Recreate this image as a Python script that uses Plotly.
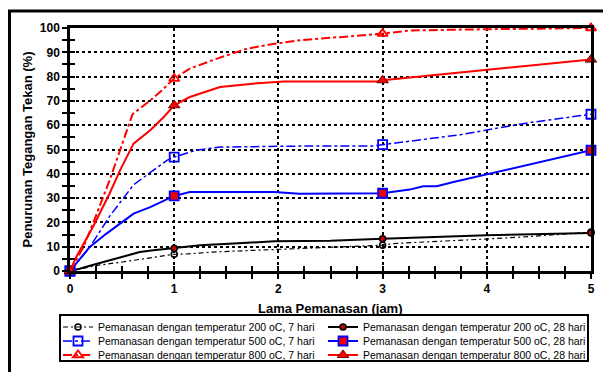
import plotly.graph_objects as go

# ---------------- data ----------------
x_200_7 = [0, 0.26, 0.5, 0.73, 1, 1.12, 1.37, 1.76, 2.2, 2.7, 3, 3.1, 3.42, 3.71, 4.06, 4.35, 4.58, 5]
y_200_7 = [0, 2.3, 3.7, 5.1, 6.9, 7.0, 7.8, 8.5, 9.2, 9.9, 10.6, 11.3, 11.9, 12.6, 13.3, 14.0, 14.7, 16.0]

x_200_28 = [0, 0.1, 0.26, 0.45, 0.67, 0.8, 1, 1.25, 1.57, 1.96, 2.5, 3, 4, 5]
y_200_28 = [0, 1, 3, 5.1, 7.8, 8.5, 9.4, 10.6, 11.3, 12.2, 12.4, 13.3, 14.7, 15.6]

x_500_7 = [0, 0.18, 0.38, 0.61, 0.93, 1, 1.21, 1.44, 2.2, 2.9, 3, 3.49, 3.75, 4.1, 4.45, 5]
y_500_7 = [0, 9.2, 22.5, 35.5, 45.5, 46.9, 49.7, 51, 51.4, 51.4, 52, 54.7, 56.1, 58.8, 61.3, 64.5]

x_500_28 = [0, 0.19, 0.35, 0.48, 0.61, 0.77, 1, 1.15, 1.96, 2.2, 3, 3.26, 3.39, 3.52, 3.68, 5]
y_500_28 = [0, 9.9, 15.4, 19.5, 23.6, 26.3, 30.9, 32.5, 32.5, 31.8, 32.0, 33.5, 34.9, 34.9, 36.6, 49.7]

x_800_7 = [0, 0.13, 0.22, 0.38, 0.6, 0.77, 0.88, 1, 1.15, 1.41, 1.7, 1.92, 2.21, 2.43, 2.69, 3, 3.27, 4, 5]
y_800_7 = [0, 9.9, 19.5, 37.3, 64.5, 70.2, 74.3, 79.2, 83.3, 87.4, 91.5, 93.2, 95, 95.6, 96.6, 97.7, 99, 99.5, 100]

x_800_28 = [0, 0.06, 0.22, 0.38, 0.48, 0.61, 0.77, 0.9, 1, 1.15, 1.44, 1.73, 2.05, 2.95, 3, 5]
y_800_28 = [0, 5.8, 18.1, 31.9, 41.4, 52.4, 57.9, 63.4, 68.2, 71.6, 75.7, 77, 78, 78, 78.5, 87]

marker_x = [0, 1, 3, 5]

names = [
    "Pemanasan dengan temperatur 200 oC, 7 hari",
    "Pemanasan dengan temperatur 200 oC, 28 hari",
    "Pemanasan dengan temperatur 500 oC, 7 hari",
    "Pemanasan dengan temperatur 500 oC, 28 hari",
    "Pemanasan dengan temperatur 800 oC, 7 hari",
    "Pemanasan dengan temperatur 800 oC, 28 hari",
]

y_tick_vals = list(range(0, 101, 10))
x_tick_vals = [0, 1, 2, 3, 4, 5]

# ---------------- layout geometry (pixels) ----------------
W, H = 603, 372
L, R, T, B = 70, 12, 28, 101
PW, PH = W - L - R, H - T - B


def px_x(p):
    return (p - L) / PW


def px_y(p):
    return (H - B - p) / PH


# ---------------- styles ----------------
series = [
    (x_200_7, y_200_7, dict(color="black", width=1.2, dash="5px,3px,2px,3px"),
     dict(symbol="circle-open", size=6, color="black", line=dict(width=1.5, color="black"))),
    (x_200_28, y_200_28, dict(color="black", width=2, dash="solid"),
     dict(symbol="circle", size=6, color="#cc0000", line=dict(width=1.5, color="black"))),
    (x_500_7, y_500_7, dict(color="#0000ff", width=1.5, dash="dashdot"),
     dict(symbol="square-open", size=9, color="#0000ff", line=dict(width=1.8, color="#0000ff"))),
    (x_500_28, y_500_28, dict(color="#0000ff", width=2, dash="solid"),
     dict(symbol="square", size=9, color="#ee0000", line=dict(width=1.8, color="#0000ff"))),
    (x_800_7, y_800_7, dict(color="#ff0000", width=2, dash="dashdot"),
     dict(symbol="triangle-up-open", size=9, color="#ff0000", line=dict(width=1.8, color="#ff0000"))),
    (x_800_28, y_800_28, dict(color="#ff0000", width=2, dash="solid"),
     dict(symbol="triangle-up", size=10, color="#ff0000", line=dict(width=1, color="#660000"))),
]

legend_ids = ["legend", "legend", "legend2", "legend2", "legend3", "legend3"]

fig = go.Figure()

for i, (xs, ys, ln, mk) in enumerate(series):
    fig.add_trace(go.Scatter(x=xs, y=ys, mode="lines", line=ln, showlegend=False,
                             hoverinfo="skip", cliponaxis=False))
    mx, my = [], []
    for xv in marker_x:
        j = xs.index(xv)
        mx += [xs[j], None]
        my += [ys[j], None]
    fig.add_trace(go.Scatter(x=mx, y=my, mode="lines+markers", line=ln, marker=mk,
                             connectgaps=False, name=names[i], legend=legend_ids[i],
                             cliponaxis=False))

fig.add_trace(go.Scatter(x=[None], y=[None], xaxis="x2", yaxis="y2", showlegend=False, hoverinfo="skip"))

font_fam = "Arial, 'Liberation Sans', sans-serif"


def make_legend(row_center_px):
    return dict(
        orientation="h", x=px_x(58), xanchor="left", y=px_y(row_center_px), yanchor="middle",
        bgcolor="rgba(0,0,0,0)", borderwidth=0,
        font=dict(size=10.5, family=font_fam), entrywidth=220, itemwidth=30,
    )


fig.update_layout(
    width=W, height=H,
    paper_bgcolor="white", plot_bgcolor="white",
    margin=dict(l=L, r=R, t=T, b=B, autoexpand=False),
    font=dict(family=font_fam, color="black"),
    showlegend=True,
    legend=make_legend(327),
    legend2=make_legend(341),
    legend3=make_legend(355),
    xaxis=dict(
        range=[0, 5], tickvals=x_tick_vals, ticktext=[str(v) for v in x_tick_vals],
        showgrid=True, gridcolor="black", griddash="dot", gridwidth=1.5,
        showline=True, linecolor="black", linewidth=2.5, mirror=True,
        ticks="outside", ticklen=5, tickwidth=2, tickcolor="black",
        minor=dict(dtick=0.25, ticks="outside", ticklen=5, tickwidth=2, tickcolor="black", showgrid=False),
        tickfont=dict(size=12, family=font_fam, weight="bold"), zeroline=False,
    ),
    yaxis=dict(
        range=[0, 100], tickvals=y_tick_vals, ticktext=[str(v) for v in y_tick_vals],
        showgrid=True, gridcolor="black", griddash="dot", gridwidth=1.5,
        showline=True, linecolor="black", linewidth=2.5, mirror=True,
        ticks="outside", ticklen=5, tickwidth=2, tickcolor="black",
        minor=dict(dtick=5, ticks="outside", ticklen=5, tickwidth=2, tickcolor="black", showgrid=False),
        tickfont=dict(size=12, family=font_fam, weight="bold"), zeroline=False,
    ),
    xaxis2=dict(overlaying="x", range=[0, 5], showgrid=False, showticklabels=False,
                tickvals=x_tick_vals, ticks="inside", ticklen=5, tickwidth=2, tickcolor="black",
                minor=dict(dtick=0.25, ticks="inside", ticklen=5, tickwidth=2, tickcolor="black"),
                side="bottom", zeroline=False, showline=False),
    yaxis2=dict(overlaying="y", range=[0, 100], showgrid=False, showticklabels=False,
                tickvals=y_tick_vals, ticks="inside", ticklen=5, tickwidth=2, tickcolor="black",
                minor=dict(dtick=5, ticks="inside", ticklen=5, tickwidth=2, tickcolor="black"),
                side="left", zeroline=False, showline=False),
    annotations=[
        dict(text="<b>Lama Pemanasan (jam)</b>", xref="paper", yref="paper", x=0.5, y=px_y(308),
             xanchor="center", yanchor="middle", showarrow=False, font=dict(size=13, family=font_fam)),
        dict(text="<b>Penurunan Tegangan Tekan (%)</b>", xref="paper", yref="paper", x=px_x(27), y=0.5,
             xanchor="center", yanchor="middle", textangle=-90, showarrow=False,
             font=dict(size=13, family=font_fam)),
    ],
    shapes=[
        # outer chart frame (only top and left edges fall inside the picture)
        dict(type="rect", xref="paper", yref="paper", x0=px_x(9.5), x1=px_x(640), y0=px_y(420), y1=px_y(11),
             line=dict(color="black", width=3), fillcolor="rgba(0,0,0,0)", layer="below"),
        # legend frame
        dict(type="rect", xref="paper", yref="paper", x0=px_x(60), x1=px_x(588), y0=px_y(361), y1=px_y(315),
             line=dict(color="black", width=2), fillcolor="white", layer="below"),
    ],
)

fig.write_html("out.html", post_script="document.body.style.margin='0px';",
               config={"displayModeBar": False})
